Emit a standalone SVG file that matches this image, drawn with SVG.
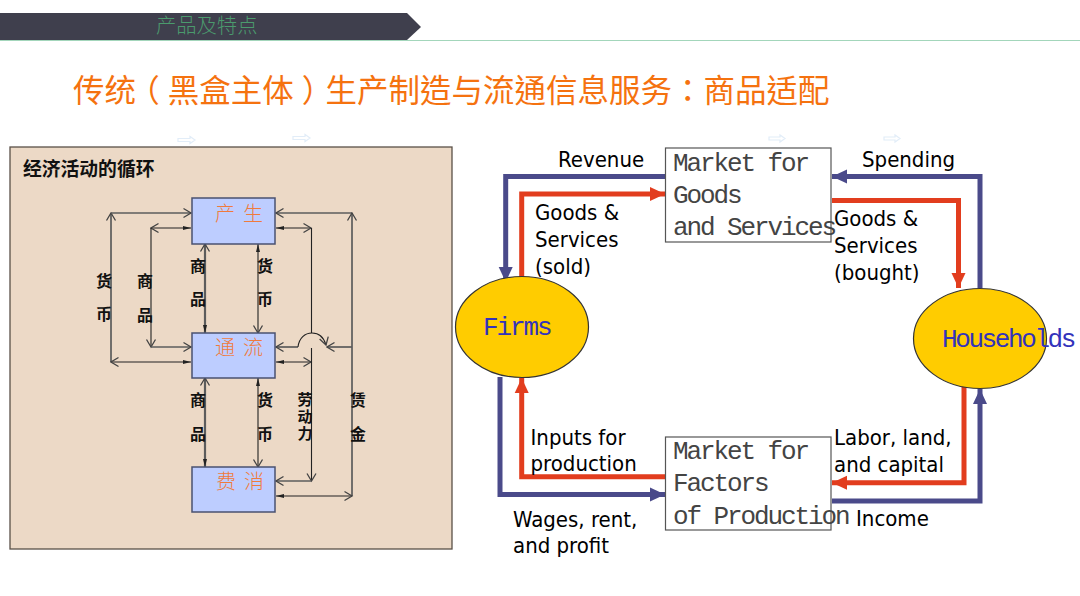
<svg xmlns="http://www.w3.org/2000/svg" width="1080" height="596" viewBox="0 0 1080 596">
<style>
.cjk{font-family:"Noto Sans CJK SC","Liberation Sans",sans-serif}
.lab{font-family:"Noto Sans CJK SC","Liberation Sans",sans-serif;font-size:16px;font-weight:700;fill:#111;text-anchor:middle}
.nt{font-family:"Noto Sans CJK SC",sans-serif;font-size:20px;fill:#f07a3c;letter-spacing:8px;font-weight:300}
.mono{font-family:"Liberation Mono",monospace;font-size:26px;letter-spacing:-2.1px;fill:#444}
.cap{font-family:"DejaVu Sans",sans-serif;font-stretch:condensed;font-size:22px;fill:#000}
.box{fill:#bdcdff;stroke:#4a5170;stroke-width:1.5}
.mbox{fill:#fff;stroke:#555;stroke-width:1.2}
.ell{fill:#ffcc00;stroke:#333;stroke-width:1.2}
.blue{fill:none;stroke:#4a4a8a;stroke-width:5;marker-end:url(#mb)}
.red{fill:none;stroke:#e23d1e;stroke-width:5;marker-end:url(#mr)}
.thin{fill:none;stroke:#222;stroke-width:1.100}
.mid{fill:none;stroke:#5c5c5c;stroke-width:1.700}
.ghost{fill:#fff;stroke:#e2edf8;stroke-width:1.2}
.halt{font-feature-settings:"halt"}
</style>
<defs>
<marker id="mb" markerUnits="userSpaceOnUse" markerWidth="16" markerHeight="16" refX="15" refY="8" orient="auto"><path d="M0 1L15 8L0 15Z" fill="#4a4a8a"/></marker>
<marker id="mr" markerUnits="userSpaceOnUse" markerWidth="16" markerHeight="16" refX="15" refY="8" orient="auto"><path d="M0 1L15 8L0 15Z" fill="#e23d1e"/></marker>
<marker id="op" markerUnits="userSpaceOnUse" markerWidth="10" markerHeight="12" refX="8.5" refY="6" orient="auto-start-reverse"><path d="M1 1.5L8.5 6L1 10.500" fill="none" stroke="#444" stroke-width="1.3"/></marker>
<marker id="sm" markerUnits="userSpaceOnUse" markerWidth="9" markerHeight="6" refX="8" refY="3" orient="auto-start-reverse"><path d="M0 1L8 3L0 5Z" fill="#222"/></marker>
</defs>
<rect width="1080" height="596" fill="#fff"/>
<g id="header">
<line x1="0" y1="40.500" x2="1080" y2="40.500" stroke="#a3d6bb" stroke-width="1.2"/>
<path d="M0 13H407L421 27L407 40H0Z" fill="#3f3f4d"/>
<text x="156" y="33" class="cjk" font-size="20.300" font-weight="300" fill="#4b9a6d">产品及特点</text>
</g>
<text id="title" x="73" y="102" font-family="'Noto Sans CJK TC','Noto Sans CJK SC',sans-serif" font-size="31.500" fill="#f5720f">传统<tspan class="halt" dx="8">（</tspan><tspan dx="8">黑盒主体</tspan><tspan class="halt" dx="8">）</tspan><tspan dx="8">生产制造与流通信息服务：商品适配</tspan></text>
<g id="ghost-arrows">
<path class="ghost" d="M178 138.500H190V136.500L195 140L190 143.500V141.500H178Z"/>
<path class="ghost" d="M293 136.500H305V134.500L310 138L305 141.500V139.500H293Z"/>
<path class="ghost" d="M769 137H780V135L785 138.500L780 142V140H769Z"/>
<path class="ghost" d="M884 137H895V135L900 138.500L895 142V140H884Z"/>
</g>
<rect id="panel" x="10" y="147" width="442" height="402" fill="#ecd9c6" stroke="#5a5048" stroke-width="1.300"/>
<text id="panel-title" x="23" y="176" class="cjk" font-size="18.800" font-weight="700" fill="#111">经济活动的循环</text>
<g id="cycle-connectors">
<path class="mid" d="M111 362V213" marker-end="url(#op)"/>
<path class="mid" d="M111 213H191" marker-end="url(#op)"/>
<path class="thin" d="M191 362H111" marker-end="url(#op)" marker-start="url(#sm)"/>
<path class="thin" d="M191 228H151" marker-end="url(#op)" marker-start="url(#sm)"/>
<path class="thin" d="M151 228V347" marker-end="url(#op)"/>
<path class="mid" d="M151 347H191" marker-end="url(#op)"/>
<path class="mid" style="stroke-width:2.200" d="M205 244V333" marker-start="url(#op)" marker-end="url(#sm)"/>
<path class="thin" d="M258 244V333" marker-start="url(#sm)" marker-end="url(#op)"/>
<path class="mid" style="stroke-width:2.200" d="M205 378V467" marker-start="url(#op)" marker-end="url(#sm)"/>
<path class="thin" d="M258 378V467" marker-start="url(#sm)" marker-end="url(#op)"/>
<path class="mid" d="M352 213H276" marker-end="url(#op)"/>
<path class="mid" d="M352 496V213" marker-end="url(#op)"/>
<path class="thin" d="M276 228H311" marker-start="url(#sm)" marker-end="url(#op)"/>
<path class="thin" d="M311.500 228V333"/>
<path class="mid" d="M352 347H327" marker-end="url(#op)"/>
<path class="mid" d="M298 347H276" marker-end="url(#op)"/>
<path class="thin" d="M298 347C299 338 305 333 312 333C319 333 324 338 326 345" marker-end="url(#op)"/>
<path class="thin" d="M276 362H311" marker-start="url(#sm)" marker-end="url(#op)"/>
<path class="thin" d="M311.500 348V481" marker-end="url(#op)"/>
<path class="mid" d="M311 481H276" marker-end="url(#op)"/>
<path class="thin" d="M276 496H352" marker-start="url(#sm)" marker-end="url(#op)"/>
</g>
<g id="cycle-labels">
<text class="lab" x="104" y="287">货</text><text class="lab" x="104" y="320">币</text>
<text class="lab" x="145" y="287">商</text><text class="lab" x="145" y="321">品</text>
<text class="lab" x="198" y="272">商</text><text class="lab" x="198" y="305">品</text>
<text class="lab" x="265" y="272">货</text><text class="lab" x="265" y="305">币</text>
<text class="lab" x="198" y="406">商</text><text class="lab" x="198" y="440">品</text>
<text class="lab" x="265" y="406">货</text><text class="lab" x="265" y="440">币</text>
<text class="lab" x="305" y="392" style="font-size:15px;writing-mode:vertical-rl;text-anchor:start;letter-spacing:2px">劳动力</text>
<text class="lab" x="358" y="406">赁</text><text class="lab" x="358" y="440">金</text>
</g>
<g id="node-produce"><rect class="box" x="192" y="198" width="83" height="46"/><text class="nt" x="215" y="221">产生</text></g>
<g id="node-circulate"><rect class="box" x="192" y="333" width="83" height="45"/><text class="nt" x="215" y="355">通流</text></g>
<g id="node-consume"><rect class="box" x="192" y="467" width="83" height="45"/><text class="nt" x="216" y="489">费消</text></g>
<g id="flow-connectors">
<path class="blue" d="M665 176.500H505.700V282"/>
<path class="red" d="M521.700 277V194H665"/>
<path class="blue" d="M980 288V176.500H832"/>
<path class="red" d="M832 200.500H958.500V288"/>
<path class="red" d="M964 383V482.700H832"/>
<path class="blue" d="M832 501H980V389"/>
<path class="red" d="M665 476.700H521.700V378"/>
<path class="blue" d="M500 377V494.500H665"/>
</g>
<g id="node-goods-market"><rect class="mbox" x="665.500" y="148" width="165.500" height="94"/>
<text class="mono" x="673" y="171">Market for</text><text class="mono" x="673" y="203">Goods</text><text class="mono" x="673" y="235">and Services</text></g>
<g id="node-factor-market"><rect class="mbox" x="665.500" y="437" width="165.500" height="93"/>
<text class="mono" x="673" y="459">Market for</text><text class="mono" x="673" y="491">Factors</text><text class="mono" x="673" y="524">of Production</text></g>
<g id="node-firms"><ellipse class="ell" cx="522" cy="327" rx="66.500" ry="50.500"/><text class="mono" x="483" y="335" style="fill:#3333bb">Firms</text></g>
<g id="node-households"><ellipse class="ell" cx="980" cy="338.500" rx="66.500" ry="50"/><text class="mono" x="942" y="347" style="fill:#3333bb;letter-spacing:-2.4px">Households</text></g>
<g id="flow-labels">
<text class="cap" x="558" y="167">Revenue</text>
<text class="cap" x="535" y="220">Goods &amp;</text><text class="cap" x="535" y="247">Services</text><text class="cap" x="535" y="274">(sold)</text>
<text class="cap" x="862" y="167">Spending</text>
<text class="cap" x="834" y="226">Goods &amp;</text><text class="cap" x="834" y="253">Services</text><text class="cap" x="834" y="280">(bought)</text>
<text class="cap" x="530.500" y="445">Inputs for</text><text class="cap" x="530.500" y="471">production</text>
<text class="cap" x="513" y="527">Wages, rent,</text><text class="cap" x="513" y="553">and profit</text>
<text class="cap" x="834" y="445">Labor, land,</text><text class="cap" x="834" y="472">and capital</text>
<text class="cap" x="856" y="526">Income</text>
</g>
</svg>
